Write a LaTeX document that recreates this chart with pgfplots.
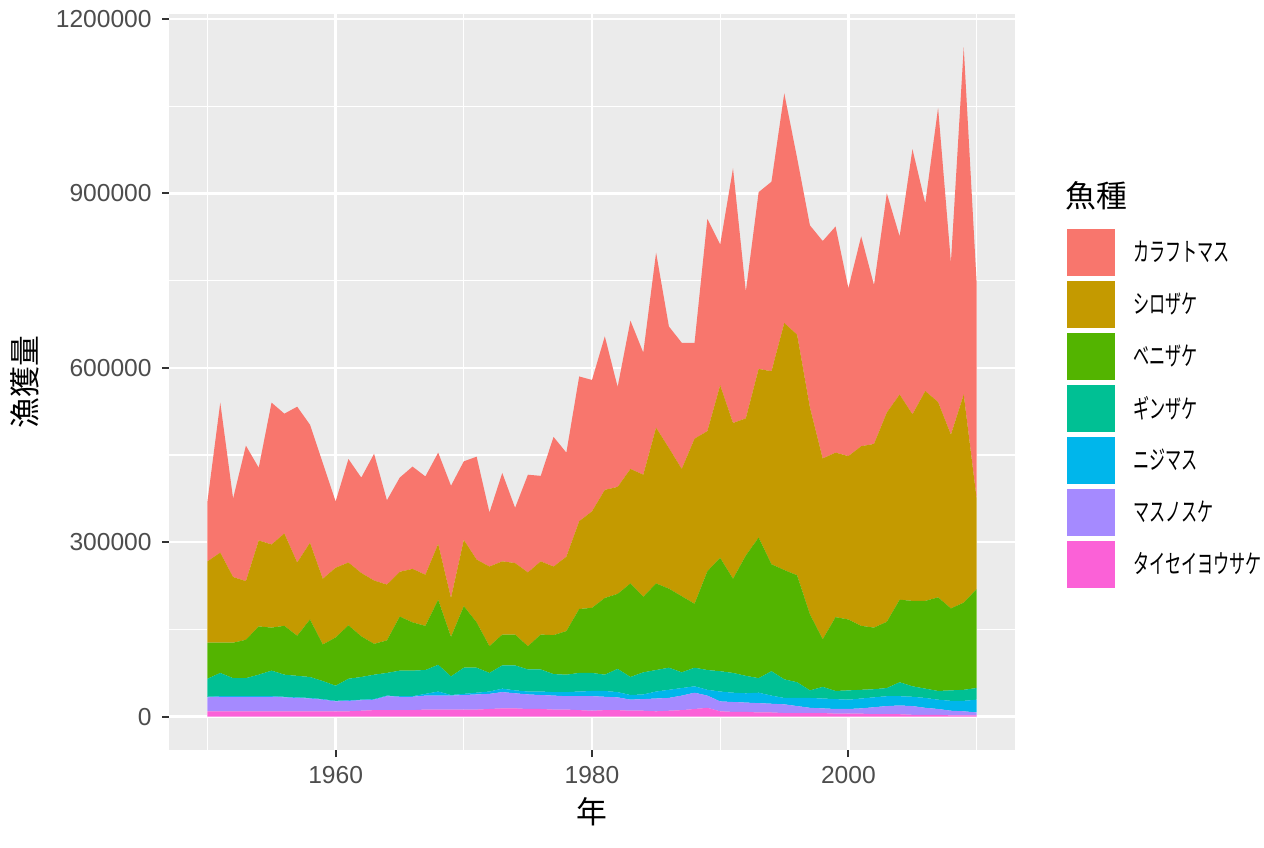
\documentclass[border=0pt]{standalone}
\usepackage{pgfplots}
\usepackage{pgfplotstable}
\pgfplotsset{compat=1.18}
\usepackage{fontspec}
\setmainfont{Liberation Sans}
\newfontfamily\cjk{Noto Sans CJK JP}
\newfontfamily\cjkn[FakeStretch=0.62]{Noto Sans CJK JP}
\definecolor{cK}{HTML}{F8766D}
\definecolor{cS}{HTML}{C49A00}
\definecolor{cB}{HTML}{53B400}
\definecolor{cG}{HTML}{00C094}
\definecolor{cN}{HTML}{00B6EB}
\definecolor{cM}{HTML}{A58AFF}
\definecolor{cT}{HTML}{FB61D7}
\definecolor{panel}{HTML}{EBEBEB}
\definecolor{ticktext}{HTML}{4D4D4D}
\definecolor{tickmark}{HTML}{333333}
\pgfplotstableread{
year T M N G B S K
1950 9000 24000 1000 31000 62000 140000 103000
1951 9000 25000 1000 40000 52000 155000 258000
1952 9000 25000 1000 31000 61000 113000 135000
1953 9000 25000 1000 31000 66000 101000 233000
1954 9000 25000 1000 37000 83000 148000 125000
1955 9000 25000 1000 44000 74000 143000 244000
1956 9000 24000 1000 38000 84000 159000 206000
1957 9000 23000 1000 37000 69000 126000 268000
1958 9000 22000 1000 36000 99000 132000 203000
1959 9000 20000 1000 31000 63000 113000 199000
1960 9000 17000 1000 26000 83000 120000 114000
1961 9000 18000 1000 37000 92000 108000 178000
1962 10000 18000 1000 39000 70000 109000 164000
1963 11000 18000 1000 42000 53000 109000 218000
1964 11000 24000 1000 39000 56000 96000 145000
1965 11000 23000 1000 44000 93000 77000 162000
1966 11000 23000 1000 44000 83000 92000 176000
1967 12000 24000 3000 41000 76000 88000 169000
1968 12000 24000 7000 46000 112000 96000 157000
1969 12000 24000 1000 32000 68000 67000 193000
1970 12000 25000 2000 45000 106000 114000 135000
1971 12000 26000 3000 43000 78000 108000 177000
1972 13000 26000 4000 32000 46000 137000 93000
1973 14000 28000 6000 40000 53000 126000 152000
1974 14000 26000 5000 43000 53000 123000 95000
1975 13000 25000 5000 38000 40000 127000 168000
1976 13000 24000 6000 38000 60000 126000 147000
1977 12000 24000 6000 31000 67000 118000 223000
1978 12000 23000 7000 30000 75000 128000 179000
1979 11000 24000 8000 32000 110000 151000 249000
1980 10000 25000 9000 31000 112000 166000 226000
1981 11000 23000 10000 28000 132000 186000 264000
1982 11000 22000 9000 40000 129000 184000 172000
1983 10000 19000 8000 31000 161000 197000 255000
1984 10000 20000 8000 38000 130000 210000 210000
1985 9000 22000 12000 37000 149000 268000 301000
1986 10000 22000 14000 38000 136000 242000 209000
1987 11000 25000 13000 27000 131000 219000 217000
1988 13000 28000 11000 32000 110000 284000 165000
1989 15000 21000 10000 34000 170000 241000 365000
1990 9000 17000 17000 35000 195000 297000 242000
1991 8000 17000 16000 34000 162000 268000 438000
1992 8000 16000 16000 30000 207000 236000 218000
1993 7000 16000 18000 25000 242000 290000 304000
1994 7000 15000 14000 42000 184000 332000 326000
1995 6000 15000 11000 32000 188000 425000 395000
1996 6000 12000 14000 27000 184000 414000 304000
1997 6000 9000 17000 13000 131000 356000 313000
1998 6000 8000 17000 20000 82000 311000 374000
1999 5000 8000 17000 14000 127000 283000 389000
2000 5000 8000 16000 16000 122000 281000 289000
2001 5000 9000 17000 15000 110000 309000 361000
2002 4000 12000 17000 14000 106000 316000 273000
2003 4000 14000 17000 14000 114000 360000 377000
2004 4000 15000 16000 24000 142000 353000 272000
2005 3000 15000 16000 18000 147000 321000 456000
2006 3000 12000 17000 16000 151000 361000 323000
2007 3000 10000 16000 15000 161000 336000 506000
2008 2000 8000 17000 18000 141000 299000 296000
2009 2000 7000 18000 19000 150000 358000 597000
2010 2000 5000 22000 20000 170000 157000 372000
}\data
\begin{document}
\begin{tikzpicture}
\path[fill=white, use as bounding box] (0,0) rectangle (632bp,424bp);
\begin{axis}[
  at={(84.5bp,49bp)}, anchor=south west,
  scale only axis, width=423bp, height=368bp,
  stack plots=y,
  xmin=1947, xmax=2013,
  ymin=-57550, ymax=1208550,
  xtick={1960,1980,2000},
  minor xtick={1950,1970,1990,2010},
  ytick={0,300000,600000,900000,1200000},
  minor ytick={150000,450000,750000,1050000},
  scaled y ticks=false,
  axis background/.style={fill=panel},
  axis line style={draw=none},
  grid=both,
  major grid style={white, line width=1.2bp},
  minor grid style={white, line width=0.6bp},
  tick align=outside,
  xtick pos=bottom, ytick pos=left,
  major tick length=3.5bp,
  minor tick length=0pt,
  tick style={tickmark, line width=1bp},
  /pgf/number format/assume math mode=true,
  /pgf/number format/1000 sep={},
  /pgf/number format/fixed,
  ticklabel style={font=\fontsize{12.3bp}{14bp}\selectfont, text=ticktext},
  yticklabel style={anchor=east, inner sep=0pt, xshift=-5bp},
  xticklabel style={anchor=north, inner sep=0pt, yshift=-4.5bp},
  xlabel={\cjk 年},
  ylabel={\cjk 漁獲量},
  label style={font=\fontsize{15.4bp}{17bp}\selectfont},
  xlabel style={at={(axis description cs:0.5,-0.084)}, anchor=center, inner sep=0pt},
  ylabel style={at={(axis description cs:-0.170,0.5)}, anchor=center, inner sep=0pt, rotate=0},
  reverse legend,
  legend image code/.code={\fill[#1] (0bp,-11.75bp) rectangle (24bp,11.75bp);},
  legend style={at={(axis description cs:1.0615,0.7079)}, anchor=north west,
    draw=none, fill=none, inner sep=0pt, outer sep=0pt,
    row sep=2.5bp,
    font=\cjkn\fontsize{13bp}{15bp}\selectfont,
    /tikz/every odd column/.append style={column sep=7bp}},
  legend cell align=left,
]
\addplot[fill=cT, draw=none] table[x=year, y=T] {\data} \closedcycle;
\addlegendentry{タイセイヨウサケ}
\addplot[fill=cM, draw=none] table[x=year, y=M] {\data} \closedcycle;
\addlegendentry{マスノスケ}
\addplot[fill=cN, draw=none] table[x=year, y=N] {\data} \closedcycle;
\addlegendentry{ニジマス}
\addplot[fill=cG, draw=none] table[x=year, y=G] {\data} \closedcycle;
\addlegendentry{ギンザケ}
\addplot[fill=cB, draw=none] table[x=year, y=B] {\data} \closedcycle;
\addlegendentry{ベニザケ}
\addplot[fill=cS, draw=none] table[x=year, y=S] {\data} \closedcycle;
\addlegendentry{シロザケ}
\addplot[fill=cK, draw=none] table[x=year, y=K] {\data} \closedcycle;
\addlegendentry{カラフトマス}
\end{axis}
\node[anchor=base west, inner sep=0pt, font=\cjk\fontsize{15.4bp}{17bp}\selectfont] at (532.7bp,320bp) {魚種};
\end{tikzpicture}
\end{document}
